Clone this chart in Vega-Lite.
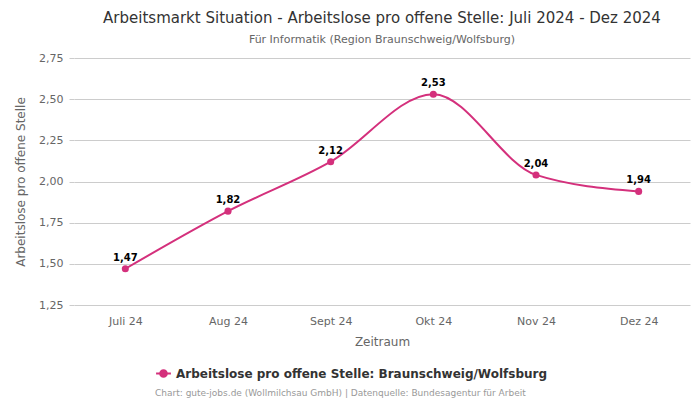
{
  "$schema": "https://vega.github.io/schema/vega-lite/v6.json",
  "width": 616,
  "height": 247,
  "autosize": "none",
  "padding": {"left": 74, "top": 58, "right": 10, "bottom": 95},
  "background": "white",
  "config": {
    "font": "DejaVu Sans",
    "view": {"stroke": null},
    "locale": {"number": {"decimal": ",", "thousands": ".", "grouping": [3], "currency": ["", " €"]}}
  },
  "title": {
    "text": "Arbeitsmarkt Situation - Arbeitslose pro offene Stelle: Juli 2024 - Dez 2024",
    "subtitle": "Für Informatik (Region Braunschweig/Wolfsburg)",
    "fontSize": 15,
    "fontWeight": "normal",
    "color": "#333333",
    "subtitleFontSize": 11,
    "subtitleColor": "#666666",
    "subtitlePadding": 8,
    "anchor": "middle",
    "offset": 7
  },
  "data": {
    "values": [
      {"monat": "Juli 24", "wert": 1.47, "serie": "Arbeitslose pro offene Stelle: Braunschweig/Wolfsburg"},
      {"monat": "Aug 24", "wert": 1.82, "serie": "Arbeitslose pro offene Stelle: Braunschweig/Wolfsburg"},
      {"monat": "Sept 24", "wert": 2.12, "serie": "Arbeitslose pro offene Stelle: Braunschweig/Wolfsburg"},
      {"monat": "Okt 24", "wert": 2.53, "serie": "Arbeitslose pro offene Stelle: Braunschweig/Wolfsburg"},
      {"monat": "Nov 24", "wert": 2.04, "serie": "Arbeitslose pro offene Stelle: Braunschweig/Wolfsburg"},
      {"monat": "Dez 24", "wert": 1.94, "serie": "Arbeitslose pro offene Stelle: Braunschweig/Wolfsburg"}
    ]
  },
  "encoding": {
    "x": {
      "field": "monat",
      "type": "ordinal",
      "sort": null,
      "title": "Zeitraum",
      "axis": {
        "labelAngle": 0,
        "labelColor": "#666666",
        "labelFontSize": 11,
        "labelPadding": 10,
        "ticks": false,
        "domain": false,
        "grid": false,
        "titleColor": "#666666",
        "titleFontSize": 12,
        "titleFontWeight": "normal",
        "titlePadding": 10
      }
    },
    "y": {
      "field": "wert",
      "type": "quantitative",
      "scale": {"domain": [1.25, 2.75], "nice": false, "zero": false},
      "title": "Arbeitslose pro offene Stelle",
      "axis": {
        "values": [1.25, 1.5, 1.75, 2.0, 2.25, 2.5, 2.75],
        "format": ".2f",
        "labelColor": "#666666",
        "labelFontSize": 11,
        "labelPadding": 6,
        "domain": false,
        "ticks": true,
        "tickSize": 5,
        "tickColor": "#cccccc",
        "gridColor": "#cccccc",
        "titleColor": "#666666",
        "titleFontSize": 12,
        "titleFontWeight": "normal",
        "titlePadding": 11
      }
    }
  },
  "layer": [
    {
      "mark": {"type": "line", "interpolate": "monotone", "strokeWidth": 2},
      "encoding": {
        "color": {
          "field": "serie",
          "type": "nominal",
          "scale": {"range": ["#d4307c"]},
          "legend": {
            "orient": "none",
            "legendX": 81,
            "legendY": 307,
            "direction": "horizontal",
            "title": "Chart: gute-jobs.de (Wollmilchsau GmbH) | Datenquelle: Bundesagentur für Arbeit",
            "titleOrient": "bottom",
            "titleAnchor": "start",
            "titleFontSize": 9,
            "titleFontWeight": "normal",
            "titleColor": "#999999",
            "titlePadding": 8,
            "titleLimit": 700,
            "labelFontSize": 12,
            "labelFontWeight": "bold",
            "labelColor": "#333333",
            "labelLimit": 600,
            "symbolType": "M-1,0L-0.45,0M0.45,0L1,0M-0.45,0A0.45,0.45 0 1,1 0.45,0A0.45,0.45 0 1,1 -0.45,0Z",
            "symbolSize": 220,
            "symbolStrokeWidth": 2,
            "symbolFillColor": "#d4307c",
            "symbolStrokeColor": "#d4307c"
          }
        }
      }
    },
    {
      "mark": {"type": "point", "filled": true, "size": 50, "color": "#d4307c", "opacity": 1},
      "encoding": {}
    },
    {
      "mark": {"type": "text", "dy": -11, "fontSize": 10, "fontWeight": "bold", "color": "#000000"},
      "encoding": {
        "text": {"field": "wert", "type": "quantitative", "format": ".2f"}
      }
    }
  ]
}
